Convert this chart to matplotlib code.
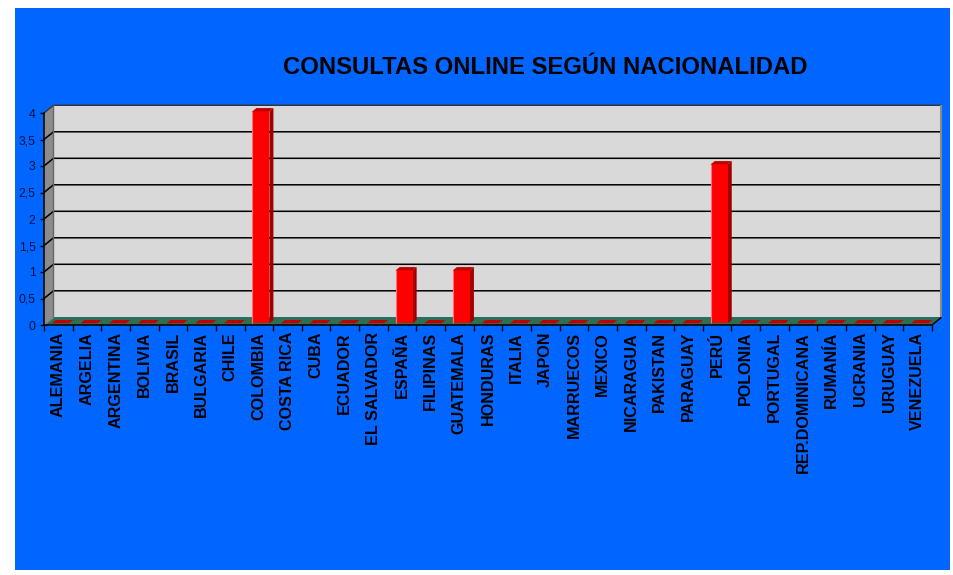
import matplotlib
matplotlib.use("Agg")
import matplotlib.pyplot as plt
from matplotlib.patches import Rectangle

W, H = 954, 575
categories = ["ALEMANIA", "ARGELIA", "ARGENTINA", "BOLIVIA", "BRASIL", "BULGARIA", "CHILE",
              "COLOMBIA", "COSTA RICA", "CUBA", "ECUADOR", "EL SALVADOR", "ESPAÑA", "FILIPINAS",
              "GUATEMALA", "HONDURAS", "ITALIA", "JAPON", "MARRUECOS", "MEXICO", "NICARAGUA",
              "PAKISTAN", "PARAGUAY", "PERÚ", "POLONIA", "PORTUGAL", "REP.DOMINICANA", "RUMANÍA",
              "UCRANIA", "URUGUAY", "VENEZUELA"]
values = [0, 0, 0, 0, 0, 0, 0, 4, 0, 0, 0, 0, 1, 0, 1, 0, 0, 0, 0, 0, 0, 0, 0, 3, 0, 0, 0, 0, 0, 0, 0]
y_ticks = [0, 0.5, 1, 1.5, 2, 2.5, 3, 3.5, 4]
y_labels = ["0", "0,5", "1", "1,5", "2", "2,5", "3", "3,5", "4"]
title = "CONSULTAS ONLINE SEGÚN NACIONALIDAD"

plt.rcParams["font.family"] = ["Liberation Sans", "DejaVu Sans"]
fig = plt.figure(figsize=(W / 100, H / 100), dpi=100, facecolor="white")
fig.patches.append(Rectangle((15 / W, 1 - 570 / H), 935 / W, 562 / H, transform=fig.transFigure,
                             facecolor="#0066ff", edgecolor="none", zorder=-5))

L, R, T, B = 44, 932, 113, 325
ax = fig.add_axes([L / W, 1 - B / H, (R - L) / W, (B - T) / H])
ax.patch.set_visible(False)
n = len(categories)
xmin, xmax = -0.5, n - 0.5
ax.set_xlim(xmin, xmax)
ax.set_ylim(0, 4)
ppx = (R - L) / n
ppy = (B - T) / 4
DX, DY = 9.5 / ppx, 7.7 / ppy


def pr(x, y, d):
    """Oblique projection: depth d in 0..1 shifts a data point towards the back wall."""
    return x + d * DX, y + d * DY


def face(points, **kw):
    xs, ys = zip(*[pr(*p) for p in points])
    ax.fill(xs, ys, clip_on=False, linewidth=kw.pop("linewidth", 0), **kw)


def line(points, **kw):
    xs, ys = zip(*[pr(*p) for p in points])
    kw.setdefault("color", "black")
    kw.setdefault("linewidth", 1)
    ax.plot(xs, ys, clip_on=False, solid_capstyle="butt", **kw)


# walls and floor
face([(xmin, 0, 1), (xmax, 0, 1), (xmax, 4, 1), (xmin, 4, 1)], facecolor="#d9d9d9", zorder=1)
face([(xmin, 0, 0), (xmin, 0, 1), (xmin, 4, 1), (xmin, 4, 0)], facecolor="#8c8c8c", zorder=1)
face([(xmin, 0, 0), (xmax, 0, 0), (xmax, 0, 1), (xmin, 0, 1)], facecolor="#2f6f4f", zorder=1)

for v in y_ticks:
    if 0 < v < 4:
        line([(xmin, v, 0), (xmin, v, 1), (xmax, v, 1)], zorder=2, linewidth=1.1)
line([(xmin, 4, 0), (xmin, 4, 1), (xmax, 4, 1)], color="#333333", zorder=2, linewidth=1)
line([(xmin, 0, 1), (xmin, 4, 1)], color="#666666", zorder=2)
line([(xmax, 0, 1), (xmax, 4, 1)], color="#8a8a8a", linewidth=1.5, zorder=2)
line([(xmax, 0, 0), (xmax, 0, 1)], color="black", zorder=2)
line([(xmin, 0, 0), (xmin, 0, 1)], color="#888888", zorder=2)

# bars
W_BAR = 17 / ppx
D0, D1 = 0.22, 0.64
for i, v in enumerate(values):
    x0, x1 = i - W_BAR / 2, i + W_BAR / 2
    if v > 0:
        face([(x1, 0, D0), (x1, 0, D1), (x1, v, D1), (x1, v, D0)], facecolor="#a00000", zorder=3)
        face([(x0, 0, D0), (x1, 0, D0), (x1, v, D0), (x0, v, D0)], facecolor="#ff0000", zorder=4)
        line([(x0, 0, D0), (x0, v, D0)], color="#ff7070", linewidth=0.8, zorder=5)
    face([(x0, v, D0), (x1, v, D0), (x1, v, D1), (x0, v, D1)], facecolor="#c00000", zorder=5)

# axes, ticks, labels
for s in ("top", "right"):
    ax.spines[s].set_visible(False)
for s in ("left", "bottom"):
    ax.spines[s].set_linewidth(1.1)
    ax.spines[s].set_zorder(6)
ax.set_yticks(y_ticks, y_labels, fontsize=8.8)
ax.tick_params(axis="y", length=3, width=1, pad=3, colors="black", labelcolor="#001040")
ax.set_xticks([xmin + k for k in range(n + 1)], [""] * (n + 1))
ax.set_xticks(list(range(n)), categories, minor=True, rotation=90, fontsize=11.6,
              fontweight="bold", ha="center", va="top")
ax.tick_params(axis="x", which="major", length=4, width=1)
ax.tick_params(axis="x", which="minor", length=0, pad=5)

fig.text(545 / W, 1 - 68 / H, title, fontsize=17.2, fontweight="bold", ha="center", va="center",
         color="black")
fig.savefig("out.png", dpi=100, facecolor="white")
